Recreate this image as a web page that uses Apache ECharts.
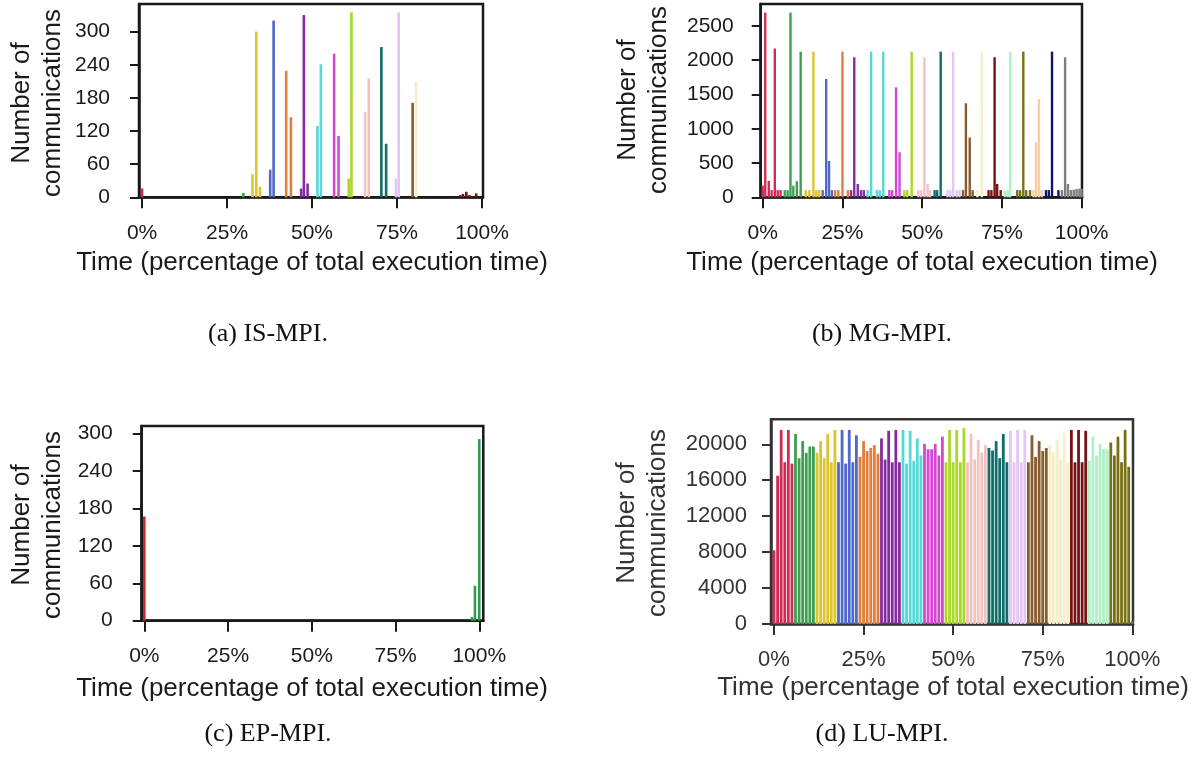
<!DOCTYPE html>
<html>
<head>
<meta charset="utf-8">
<script src="https://cdn.jsdelivr.net/npm/echarts@6/dist/echarts.min.js"></script>
<style>
  html, body { margin: 0; padding: 0; background: #fff; }
  #main { width: 1204px; height: 778px; }
</style>
</head>
<body>
<div id="main"></div>
<script>
// one colour per process group, same order in every panel
const groupColors = ['#cf2c54', '#3f9f50', '#dcc42c', '#4f69c9', '#e07e3e', '#852b9d', '#55d8d8', '#d547d3',
  '#abd727', '#f2c2c2', '#106c68', '#e3c6f7', '#875c2e', '#f6eec9', '#781315', '#b0f0c6', '#767015',
  '#f4cda8', '#13136f', '#7d7d7d'];
const epColors = ['#d02626', '#2f9c4d'];

const xTicks = [0, 25, 50, 75, 100];

// (a) IS-MPI
const isPos = [0, 29.8, 32.5, 33.6, 34.7, 37.7, 38.7, 42.4, 43.8, 46.8, 47.6, 48.7, 51.6, 52.6, 56.5, 57.8,
  60.8, 61.6, 65.6, 66.7, 70.4, 71.8, 74.7, 75.5, 79.6, 80.6, 93.6, 94.4, 95.4, 96.3, 98.3];
const isCount = [16, 8, 42, 300, 19, 50, 320, 229, 145, 16, 330, 25, 129, 241, 260, 111,
  34, 335, 155, 215, 272, 97, 34, 335, 171, 210, 4, 6, 10, 4, 7];
const isGroup = [0, 1, 2, 2, 2, 3, 3, 4, 4, 5, 5, 5, 6, 6, 7, 7,
  8, 8, 9, 9, 10, 10, 11, 11, 12, 13, 14, 14, 14, 14, 14];
const isTicks = [0, 60, 120, 180, 240, 300];

// (b) MG-MPI
const mgPos = [0, 0.8, 1.9, 2.8, 3.8, 4.7, 5.6,
  6.9, 7.8, 8.7, 9.6, 10.7, 11.9,
  13.5, 14.6, 15.9, 16.8, 17.7,
  18.8, 19.9, 20.8, 21.7,
  22.7, 23.7, 25.0, 26.7,
  27.7, 28.7, 29.8, 30.8, 31.7,
  32.9, 34.0, 35.8, 36.7, 37.8,
  39.7, 40.6, 41.8, 42.9,
  44.4, 45.3, 46.7,
  48.8, 49.7, 50.7, 51.7, 52.5,
  53.9, 54.7, 55.8,
  57.9, 58.8, 59.7, 60.8, 61.7,
  62.8, 63.7, 64.9, 65.8,
  67.3, 68.7,
  70.8, 71.7, 72.7, 73.5, 74.6,
  75.9, 76.8, 77.6,
  79.8, 80.7, 81.7, 82.6, 83.8,
  84.9, 85.7, 86.6, 87.5,
  88.8, 89.7, 90.7, 92.7,
  93.8, 94.8, 95.7, 96.6, 97.5, 98.4, 99.3, 100];
const mgCount = [170, 2695, 238, 105, 2170, 105, 105,
  105, 105, 2695, 170, 235, 2125,
  105, 105, 2125, 105, 105,
  105, 1727, 530, 105,
  105, 105, 2125, 105,
  105, 2043, 195, 105, 105,
  105, 2125, 105, 105, 2125,
  105, 105, 1605, 657,
  105, 105, 2125,
  105, 105, 2043, 195, 105,
  105, 105, 2125,
  105, 105, 2125, 105, 105,
  105, 1372, 871, 105,
  105, 2125,
  105, 105, 2043, 195, 105,
  105, 105, 2125,
  105, 105, 2125, 105, 105,
  105, 803, 1435, 105,
  105, 105, 2125, 105,
  105, 2043, 195, 105, 110, 120, 125, 125];
const mgGroup = [0, 0, 0, 0, 0, 0, 0,
  1, 1, 1, 1, 1, 1,
  2, 2, 2, 2, 2,
  3, 3, 3, 3,
  4, 4, 4, 4,
  5, 5, 5, 5, 5,
  6, 6, 6, 6, 6,
  7, 7, 7, 7,
  8, 8, 8,
  9, 9, 9, 9, 9,
  10, 10, 10,
  11, 11, 11, 11, 11,
  12, 12, 12, 12,
  13, 13,
  14, 14, 14, 14, 14,
  15, 15, 15,
  16, 16, 16, 16, 16,
  17, 17, 17, 17,
  18, 18, 18, 18,
  19, 19, 19, 19, 19, 19, 19, 19];
const mgTicks = [0, 500, 1000, 1500, 2000, 2500];

// (c) EP-MPI
const epPos = [0, 97.8, 98.7, 100];
const epCount = [167, 6, 56, 291];
const epGroup = [0, 1, 1, 1];
const epTicks = [0, 60, 120, 180, 240, 300];

// (d) LU-MPI, one bin per percent (0..100)
const luCount = [8200, 16500, 21600, 18000, 21600, 17850,
  21150, 18450, 20350, 19050, 19750, 19750,
  19050, 20350, 18450, 21150, 18000, 21600,
  18000, 21600, 17850, 21600, 18000, 21000,
  18600, 20350, 19250, 19600, 19900, 18950,
  20650, 18300, 21500, 18000, 21600, 18000,
  21600, 17850, 21500, 18150, 20650, 18750,
  20050, 19450, 19450, 20050, 18750, 20850,
  18000, 21600, 18000, 21600, 18000, 21800,
  18000, 21150, 18300, 20500, 19100, 19900,
  19600, 19300, 20350, 18450, 21150, 18000,
  21500, 18000, 21600, 18000, 21600,
  18000, 21000, 18600, 20350, 19250, 19600,
  19900, 19100, 20500, 18300, 21300, 18000,
  21600, 18000, 21600, 18000, 21500,
  18150, 20850, 18750, 20050, 19450, 19450,
  20200, 18750, 20850, 18000, 21600, 17500, 300];
const luGroup = [0, 0, 0, 0, 0, 0,
  1, 1, 1, 1, 1, 1,
  2, 2, 2, 2, 2, 2,
  3, 3, 3, 3, 3, 3,
  4, 4, 4, 4, 4, 4,
  5, 5, 5, 5, 5, 5,
  6, 6, 6, 6, 6, 6,
  7, 7, 7, 7, 7, 7,
  8, 8, 8, 8, 8, 8,
  9, 9, 9, 9, 9, 9,
  10, 10, 10, 10, 10, 10,
  11, 11, 11, 11, 11,
  12, 12, 12, 12, 12, 12,
  13, 13, 13, 13, 13, 13,
  14, 14, 14, 14, 14,
  15, 15, 15, 15, 15, 15,
  16, 16, 16, 16, 16, 16, 16];
const luPos = luCount.map((v, i) => i);
const luTicks = [0, 4000, 8000, 12000, 16000, 20000];

const yTitle = 'Number of\ncommunications';
const xTitle = 'Time (percentage of total execution time)';
const captions = ['(a) IS-MPI.', '(b) MG-MPI.', '(c) EP-MPI.', '(d) LU-MPI.'];

const sans = 'Liberation Sans';

// layout of the four panels
const panels = [
  {pos: isPos, count: isCount, group: isGroup, colors: groupColors, ticks: isTicks, ymax: 350,
    xmin: -0.9, xmax: 100.3, box: [139, 4, 344, 193.3], bw: 2.6, ym: 29, fs: 21, ink: '#1a1a1a'},
  {pos: mgPos, count: mgCount, group: mgGroup, colors: groupColors, ticks: mgTicks, ymax: 2820,
    xmin: -0.63, xmax: 100.1, box: [760.7, 4, 321.3, 193.3], bw: 2.4, ym: 27, fs: 21, ink: '#1a1a1a'},
  {pos: epPos, count: epCount, group: epGroup, colors: epColors, ticks: epTicks, ymax: 312,
    xmin: -0.78, xmax: 101.2, box: [141.7, 426, 341.6, 194.7], bw: 2.6, ym: 29, fs: 21, ink: '#1a1a1a'},
  {pos: luPos, count: luCount, group: luGroup, colors: groupColors, ticks: luTicks, ymax: 22780,
    xmin: -0.84, xmax: 100.2, box: [771, 419.3, 362, 204.7], bw: 2.8, ym: 24, fs: 22, ink: '#333'}
];
const yTitlePos = [[37, 103], [643, 100], [37, 525], [642, 523]];
const xTitlePos = [[312, 263], [922, 263], [312, 689], [953, 688]];
const captionPos = [[268, 334], [882, 334], [268, 734], [882, 734]];

const grid = [], xAxis = [], yAxis = [], series = [], graphic = [];

panels.forEach((p, i) => {
  grid.push({
    left: p.box[0], top: p.box[1], width: p.box[2], height: p.box[3],
    show: true, borderColor: p.ink, borderWidth: 2.5, backgroundColor: 'transparent'
  });
  xAxis.push({
    type: 'value', gridIndex: i, min: p.xmin, max: p.xmax,
    splitLine: {show: false},
    axisLine: {show: true, onZero: false, lineStyle: {color: p.ink, width: 2.5}},
    axisTick: {show: true, customValues: xTicks, length: 11, lineStyle: {color: p.ink, width: 2}},
    axisLabel: {customValues: xTicks, formatter: v => v + '%', fontSize: p.fs, fontFamily: sans, color: p.ink, margin: 25}
  });
  yAxis.push({
    type: 'value', gridIndex: i, min: 0, max: p.ymax,
    splitLine: {show: false},
    axisLine: {show: true, onZero: false, lineStyle: {color: p.ink, width: 2.5}},
    axisTick: {show: true, customValues: p.ticks, length: 9, lineStyle: {color: p.ink, width: 2}},
    axisLabel: {customValues: p.ticks, formatter: v => String(v), fontSize: p.fs, fontFamily: sans, color: p.ink, margin: p.ym}
  });
  series.push({
    type: 'bar', xAxisIndex: i, yAxisIndex: i, barWidth: p.bw,
    data: p.pos.map((x, k) => ({value: [x, p.count[k]], itemStyle: {color: p.colors[p.group[k]]}}))
  });
  graphic.push({
    type: 'text', x: yTitlePos[i][0], y: yTitlePos[i][1], rotation: Math.PI / 2,
    style: {text: yTitle, font: '26px "' + sans + '"', fill: p.ink, align: 'center', verticalAlign: 'middle', lineHeight: 31}
  });
  graphic.push({
    type: 'text', x: xTitlePos[i][0], y: xTitlePos[i][1],
    style: {text: xTitle, font: '26px "' + sans + '"', fill: p.ink, align: 'center', verticalAlign: 'middle'}
  });
  graphic.push({
    type: 'text', x: captionPos[i][0], y: captionPos[i][1],
    style: {text: captions[i], font: '26px "Liberation Serif"', fill: '#111', align: 'center', verticalAlign: 'middle'}
  });
});

const chart = echarts.init(document.getElementById('main'));
chart.setOption({
  animation: false,
  backgroundColor: '#fff',
  grid: grid,
  xAxis: xAxis,
  yAxis: yAxis,
  series: series,
  graphic: graphic
});
window.addEventListener('resize', function () {
  chart.resize();
});
</script>
</body>
</html>
